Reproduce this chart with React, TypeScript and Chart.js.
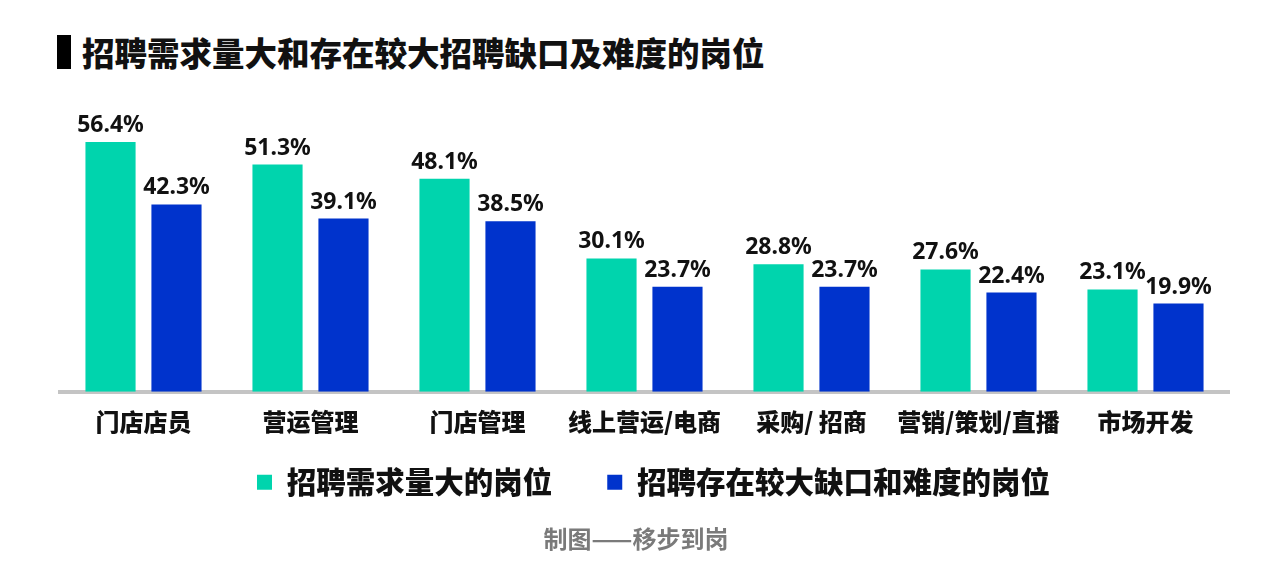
import React, { useEffect, useRef } from 'react';
import { Chart, registerables } from 'chart.js';

Chart.register(...registerables);

const categories = ['门店店员', '营运管理', '门店管理', '线上营运/电商', '采购/ 招商', '营销/策划/直播', '市场开发'];
const demandValues = [56.4, 51.3, 48.1, 30.1, 28.8, 27.6, 23.1];
const gapValues = [42.3, 39.1, 38.5, 23.7, 23.7, 22.4, 19.9];
const seriesNames = ['招聘需求量大的岗位', '招聘存在较大缺口和难度的岗位'];
const titleText = '招聘需求量大和存在较大招聘缺口及难度的岗位';
const footerText = '制图——移步到岗';

const CJK = '"Noto Sans CJK SC", "Noto Sans", sans-serif';
const NUM = '"Noto Sans", "Noto Sans CJK SC", sans-serif';

const valueLabelPlugin = {
  id: 'valueLabels',
  afterDatasetsDraw(chart: any) {
    const ctx = chart.ctx;
    ctx.save();
    ctx.font = `bold 23px ${NUM}`;
    ctx.fillStyle = '#111111';
    ctx.textAlign = 'center';
    ctx.textBaseline = 'alphabetic';
    chart.data.datasets.forEach((ds: any, i: number) => {
      const meta = chart.getDatasetMeta(i);
      meta.data.forEach((bar: any, j: number) => {
        ctx.fillText(Number(ds.data[j]).toFixed(1) + '%', bar.x, bar.y - 10);
      });
    });
    ctx.restore();
  },
};

// moves the bottom legend up (closer to the axis labels) and a touch to the right
const legendShiftPlugin = {
  id: 'legendShift',
  afterLayout(chart: any) {
    const lg = chart.legend;
    if (lg) {
      lg.top -= 40;
      lg.bottom -= 40;
      lg.left += 9;
      lg.right += 9;
    }
  },
};

export default function App() {
  const canvasRef = useRef<HTMLCanvasElement | null>(null);

  useEffect(() => {
    if (!canvasRef.current) return;
    const chart = new Chart(canvasRef.current, {
      type: 'bar',
      data: {
        labels: categories,
        datasets: [
          {
            label: seriesNames[0],
            data: demandValues,
            backgroundColor: '#00D4AD',
            borderWidth: 0,
            categoryPercentage: 0.79,
            barPercentage: 0.76,
          },
          {
            label: seriesNames[1],
            data: gapValues,
            backgroundColor: '#0033CC',
            borderWidth: 0,
            categoryPercentage: 0.79,
            barPercentage: 0.76,
          },
        ],
      },
      options: {
        responsive: false,
        animation: false,
        devicePixelRatio: 1,
        layout: { padding: { top: 126, left: 60, right: 51, bottom: 39 } },
        plugins: {
          title: { display: false },
          tooltip: { enabled: false },
          legend: {
            display: true,
            position: 'bottom',
            labels: {
              boxWidth: 15,
              boxHeight: 15,
              padding: 55,
              color: '#111111',
              font: { size: 29.5, weight: '900', family: CJK },
            },
          },
        },
        scales: {
          x: {
            grid: { display: false, drawTicks: false },
            border: { display: true, color: '#C4C4C4', width: 4 },
            ticks: {
              color: '#111111',
              padding: 16,
              font: { size: 24, weight: '900', family: CJK },
              maxRotation: 0,
              autoSkip: false,
            },
          },
          y: { display: false, min: 0, max: 60 },
        },
      },
      plugins: [valueLabelPlugin, legendShiftPlugin],
    });
    return () => chart.destroy();
  }, []);

  return (
    <div style={{ position: 'absolute', left: 0, top: 0, width: 1280, height: 586, background: '#ffffff', overflow: 'hidden' }}>
      <div style={{ position: 'absolute', left: 57, top: 35, width: 14, height: 34, background: '#000000' }} />
      <div
        style={{
          position: 'absolute',
          left: 82,
          top: 29,
          fontFamily: CJK,
          fontWeight: 900,
          fontSize: 32.5,
          lineHeight: '46px',
          color: '#111111',
          whiteSpace: 'nowrap',
        }}
      >
        {titleText}
      </div>
      <canvas ref={canvasRef} width={1280} height={586} style={{ position: 'absolute', left: 0, top: 0, display: 'block' }} />
      <div
        style={{
          position: 'absolute',
          left: 0,
          width: 1272,
          top: 521,
          textAlign: 'center',
          fontFamily: CJK,
          fontWeight: 700,
          fontSize: 24,
          lineHeight: '34px',
          color: '#7A7A7A',
          whiteSpace: 'nowrap',
        }}
      >
        {footerText}
      </div>
    </div>
  );
}
